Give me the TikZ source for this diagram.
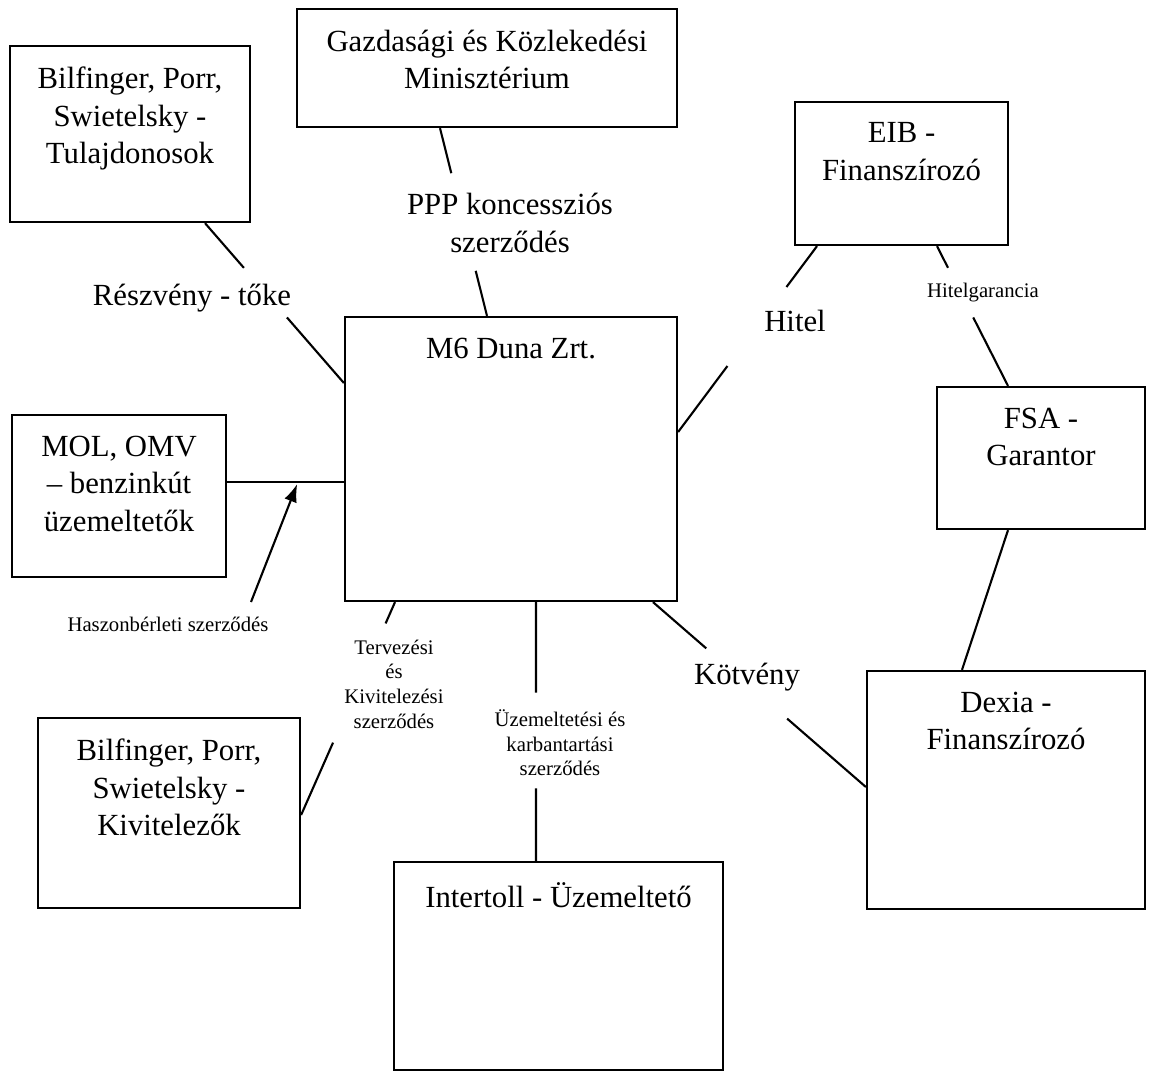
\documentclass[tikz,border=0pt]{standalone}
\usepackage{fontspec}
\setmainfont{Liberation Serif}
\usetikzlibrary{calc,arrows.meta}

\begin{document}
\begin{tikzpicture}[x=0.02cm, y=-0.02cm, line width=1.2pt,
    doboz/.style={draw, line width=1.3pt, inner sep=0pt},
    fejlec/.style={anchor=north, yshift=-0.3cm, align=center, font=\fontsize{17.5}{21.5}\selectfont},
    felirat/.style={align=center, font=\fontsize{17.5}{21.5}\selectfont},
    kisfelirat/.style={align=center, font=\fontsize{11.8}{14}\selectfont}]
\useasboundingbox (0,0) rectangle (1149,1072);

\draw
    (487,68) node[doboz, minimum width=7.6cm, minimum height=2.36cm,
        label={[fejlec]north:{Gazdasági és Közlekedési\\Minisztérium}}](gazd){}
    (130,134) node[doboz, minimum width=4.8cm, minimum height=3.52cm,
        label={[fejlec]north:{Bilfinger, Porr,\\Swietelsky -\\Tulajdonosok}}](tul){}
    (901.5,173.5) node[doboz, minimum width=4.26cm, minimum height=2.86cm,
        label={[fejlec]north:{EIB -\\Finanszírozó}}](eib){}
    (511,459) node[doboz, minimum width=6.64cm, minimum height=5.68cm,
        label={[fejlec]north:{M6 Duna Zrt.}}](m6){}
    (1041,458) node[doboz, minimum width=4.16cm, minimum height=2.84cm,
        label={[fejlec]north:{FSA -\\Garantor}}](fsa){}
    (119,496) node[doboz, minimum width=4.28cm, minimum height=3.24cm,
        label={[fejlec]north:{MOL, OMV\\– benzinkút\\üzemeltetők}}](mol){}
    (169,813) node[doboz, minimum width=5.24cm, minimum height=3.8cm,
        label={[fejlec]north:{Bilfinger, Porr,\\Swietelsky -\\Kivitelezők}}](kiv){}
    (558.5,966) node[doboz, minimum width=6.58cm, minimum height=4.16cm,
        label={[fejlec]north:{Intertoll - Üzemeltető}}](intertoll){}
    (1006,790) node[doboz, minimum width=5.56cm, minimum height=4.76cm,
        label={[fejlec]north:{Dexia -\\Finanszírozó}}](dexia){};

\draw
    (510,223) node[felirat](ppp){PPP koncessziós\\szerződés}
    (192,298) node[felirat](reszveny){Részvény - tőke}
    (795,321) node[felirat](hitel){Hitel}
    (983,293) node[kisfelirat](hitelgar){Hitelgarancia}
    (747,677) node[felirat](kotveny){Kötvény}
    (168,624) node[kisfelirat](hasz){Haszonbérleti szerződés}
    (394,684) node[kisfelirat](terv){Tervezési\\és\\Kivitelezési\\szerződés}
    (560,743) node[kisfelirat](uzem){Üzemeltetési és\\karbantartási\\szerződés};

\coordinate (g1) at ($(gazd.south)+(-47,0)$);
\coordinate (g2) at ($(m6.north)+(-24,0)$);
\coordinate (t1) at ($(tul.south)+(75,0)$);
\coordinate (t2) at ($(m6.west)+(0,-76)$);
\coordinate (e1) at ($(eib.south)+(-84.5,0)$);
\coordinate (e2) at ($(m6.east)+(0,-27)$);
\coordinate (e3) at ($(eib.south)+(35.5,0)$);
\coordinate (f1) at ($(fsa.north)+(-33,0)$);
\coordinate (f2) at ($(fsa.south)+(-33,0)$);
\coordinate (d1) at ($(dexia.north)+(-44,0)$);
\coordinate (k1) at ($(m6.south)+(142,0)$);
\coordinate (d2) at ($(dexia.west)+(0,-3)$);
\coordinate (u1) at ($(m6.south)+(25,0)$);
\coordinate (u2) at ($(intertoll.north)+(-22.5,0)$);
\coordinate (v1) at ($(m6.south)+(-116,0)$);
\coordinate (v2) at ($(kiv.east)+(0,2)$);
\coordinate (h1) at ($(mol.east)+(0,-14)$);
\coordinate (h2) at ($(m6.west)+(0,23)$);
\coordinate (ny) at (251,602);

\draw (g1) -- ($(g1)!0.24!(g2)$) ($(g1)!0.76!(g2)$) -- (g2);
\draw (t1) -- ($(t1)!0.28!(t2)$) ($(t1)!0.59!(t2)$) -- (t2);
\draw (e1) -- ($(e1)!0.22!(e2)$) ($(e1)!0.645!(e2)$) -- (e2);
\draw (e3) -- ($(e3)!0.155!(f1)$) ($(e3)!0.51!(f1)$) -- (f1);
\draw (f2) -- (d1);
\draw (k1) -- ($(k1)!0.25!(d2)$) ($(k1)!0.63!(d2)$) -- (d2);
\draw (u1) -- ($(u1)!0.35!(u2)$) ($(u1)!0.72!(u2)$) -- (u2);
\draw (v1) -- ($(v1)!0.10!(v2)$) ($(v1)!0.66!(v2)$) -- (v2);
\draw (h1) -- (h2);
\draw[-{Latex[length=3.6mm,width=2.6mm]}] (ny) -- ($(h1)!0.6!(h2)+(0,2)$);

\end{tikzpicture}
\end{document}
